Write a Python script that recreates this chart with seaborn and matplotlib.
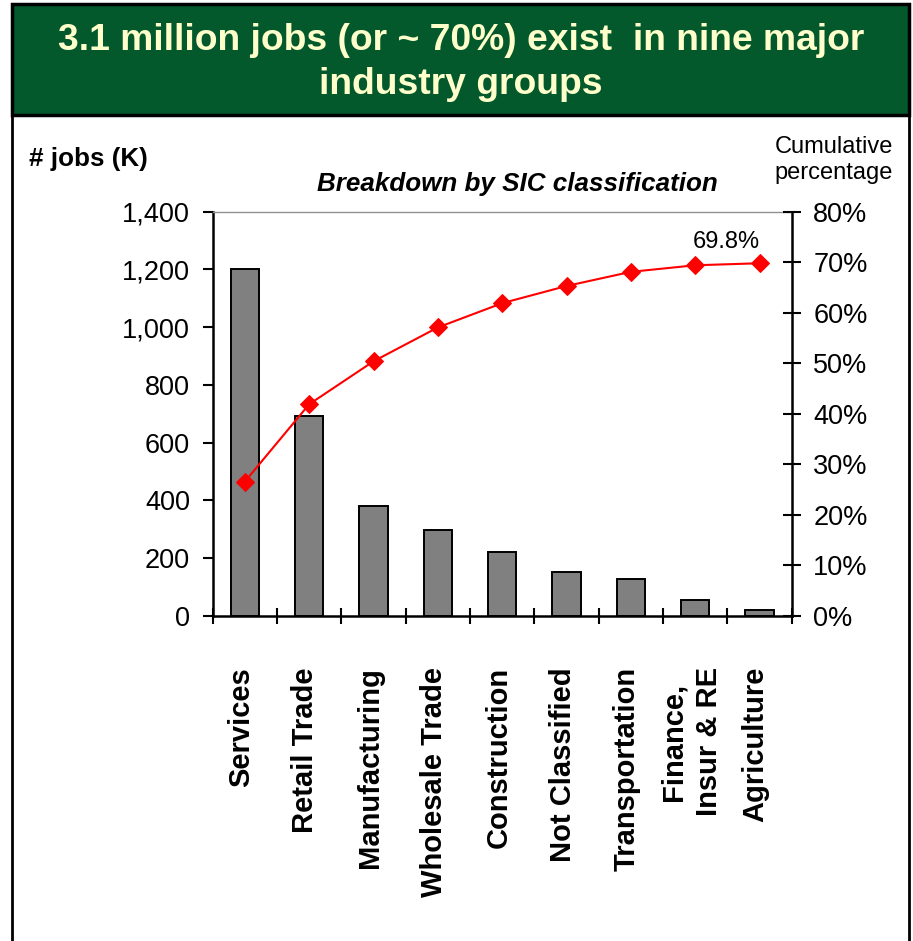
import numpy as np
import pandas as pd
import matplotlib
matplotlib.use('Agg')
import matplotlib.pyplot as plt
from matplotlib.patches import Rectangle
from matplotlib.ticker import FuncFormatter
import seaborn as sns

# data
industries = ['Services', 'Retail Trade', 'Manufacturing', 'Wholesale Trade', 'Construction',
              'Not Classified', 'Transportation', 'Finance,\nInsur & RE', 'Agriculture']
jobs_k = [1200, 694, 382, 298, 222, 153, 127, 56, 21]
cum_pct = [0.266, 0.419, 0.504, 0.571, 0.619, 0.653, 0.681, 0.694, 0.698]

df = pd.DataFrame({'industry': industries, 'jobs': jobs_k, 'cum': cum_pct})

sns.set_theme(style='white')
plt.rcParams['font.family'] = ['Liberation Sans', 'DejaVu Sans']
plt.rcParams.update({'text.color': 'black', 'axes.labelcolor': 'black',
                     'xtick.color': 'black', 'ytick.color': 'black'})

W, H = 913, 941
fx = lambda px: px / W
fy = lambda py: 1 - py / H

fig = plt.figure(figsize=(W / 100, H / 100), dpi=100)

# frame + green banner
frame = Rectangle((fx(12), fy(980)), fx(909) - fx(12), fy(115) - fy(980), transform=fig.transFigure,
                  facecolor='white', edgecolor='black', lw=2, zorder=-5)
banner = Rectangle((fx(12), fy(115)), fx(909) - fx(12), fy(4) - fy(115), transform=fig.transFigure,
                   facecolor='#03592b', edgecolor='black', lw=2.5, zorder=-4)
fig.patches.extend([frame, banner])

fig.text(fx(461), fy(62.5), '3.1 million jobs (or ~ 70%) exist  in nine major\nindustry groups',
         ha='center', va='center', color='#ffffcc', fontsize=26.8, fontweight='bold', linespacing=1.3)

ax = fig.add_axes([fx(212.7), fy(616), (791.7 - 212.7) / W, (616 - 211.7) / H])
ax.set_facecolor('none')

sns.barplot(data=df, x='industry', y='jobs', color='#808080', saturation=1, edgecolor='black',
            linewidth=1.4, width=0.44, ax=ax)
ax.set_xlim(-0.5, len(industries) - 0.5)
ax.set_ylim(0, 1400)
ax.set_yticks(np.arange(0, 1401, 200))
ax.yaxis.set_major_formatter(FuncFormatter(lambda v, p: f'{v:,.0f}'))
ax.set_xticks(np.arange(-0.5, len(industries), 1))
ax.set_xticklabels([])
ax.set_xlabel('')
ax.set_ylabel('')
ax.tick_params(axis='y', direction='out', length=7.2, width=1.5, pad=9, labelsize=19.5, left=True)
ax.tick_params(axis='x', direction='inout', length=12, width=1.5, bottom=True)
for s in ['left', 'bottom']:
    ax.spines[s].set_color('black')
    ax.spines[s].set_linewidth(1.8)
ax.spines['top'].set_color('#909090')
ax.spines['top'].set_linewidth(1)
ax.spines['right'].set_visible(False)

# rotated category labels under the axis
for i, name in enumerate(industries):
    ax.text(i - 0.06, (616 - 667) / 404, name, transform=ax.get_xaxis_transform(), rotation=90,
            ha='center', va='top', multialignment='center', fontsize=21, fontweight='bold',
            linespacing=1.35)

ax2 = ax.twinx()
sns.lineplot(x=np.arange(len(industries)), y=df['cum'], color='red', marker='D', markersize=9.5,
             markeredgecolor='red', linewidth=1.5, ax=ax2)
ax2.set_ylim(0, 0.8)
ax2.set_yticks(np.arange(0, 0.81, 0.1))
ax2.yaxis.set_major_formatter(FuncFormatter(lambda v, p: f'{v * 100:.0f}%'))
ax2.set_ylabel('')
ax2.tick_params(axis='y', direction='inout', length=13, width=1.5, pad=9, labelsize=19.5, right=True)
for s in ['top', 'left', 'bottom']:
    ax2.spines[s].set_visible(False)
ax2.spines['right'].set_color('black')
ax2.spines['right'].set_linewidth(1.8)
ax2.annotate(f'{cum_pct[-1] * 100:.1f}%', xy=(len(industries) - 1, cum_pct[-1]), xytext=(-24, 15),
             textcoords='offset points', ha='center', va='center', fontsize=17)

fig.text(fx(29), fy(159), '# jobs (K)', ha='left', va='center', fontsize=18.7, fontweight='bold')
fig.text(fx(834), fy(160), 'Cumulative\npercentage', ha='center', va='center', fontsize=17,
         linespacing=1.2)
fig.text(fx(517), fy(184), 'Breakdown by SIC classification', ha='center', va='center',
         fontsize=18.7, fontweight='bold', fontstyle='italic')

fig.savefig('out.png', dpi=100)
